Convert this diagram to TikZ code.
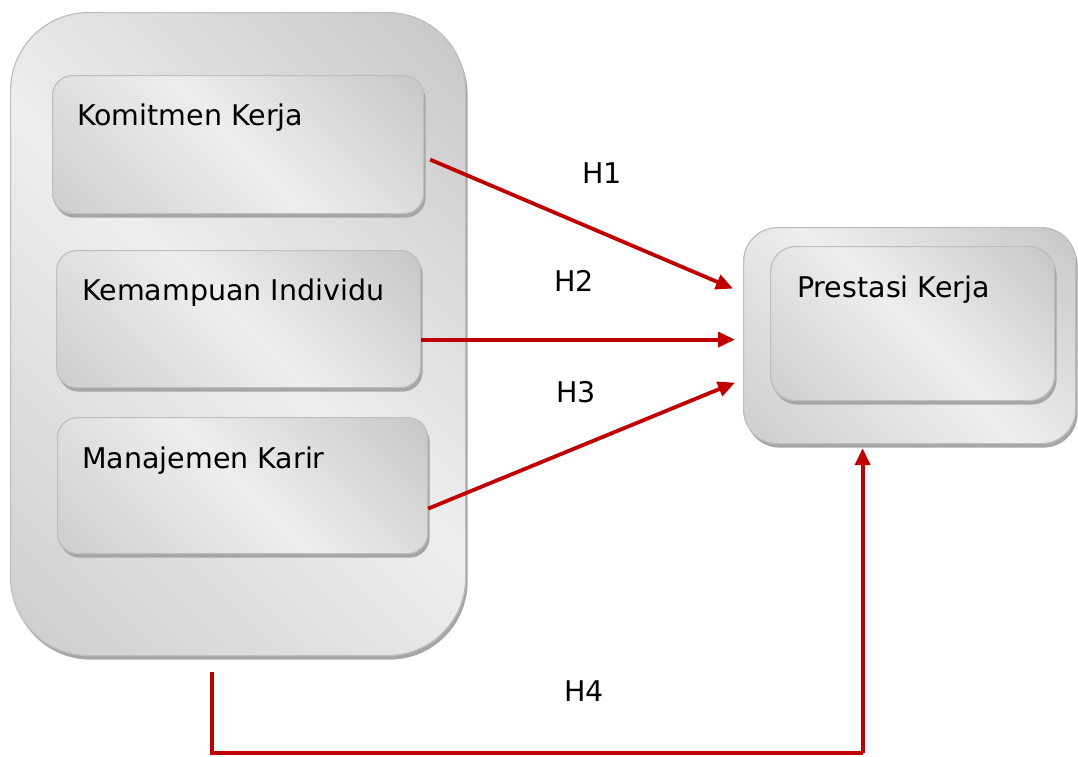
\documentclass[tikz,border=0pt]{standalone}
\usepackage{fontspec}
\setmainfont{DejaVu Sans}
\usetikzlibrary{arrows.meta,shadows,calc}
\definecolor{arrred}{HTML}{C00000}
\definecolor{gdark}{HTML}{C6C6C6}
\definecolor{glight}{HTML}{EEEEEE}
\definecolor{gmid}{HTML}{CDCDCD}
\definecolor{gborder}{HTML}{BEBEBE}
\definecolor{gshadow}{HTML}{A6A6A6}
\pgfdeclareverticalshading{boxshading}{100bp}{color(0bp)=(gmid); color(14bp)=(gmid); color(50bp)=(glight); color(86bp)=(gdark); color(100bp)=(gdark)}
\tikzset{
  gbox/.style={rectangle, draw=gborder, line width=1.2pt, inner sep=0pt,
    anchor=north west, shading=boxshading, shading angle=-45,
    drop shadow={shadow xshift=2pt, shadow yshift=-4pt, fill=gshadow, opacity=1}},
  lbl/.style={anchor=base west, inner sep=0pt, font=\fontsize{28.5}{34}\selectfont},
  arr/.style={draw=arrred, line width=3.8pt, -{Triangle[length=17pt,width=15pt]}},
  ln/.style={draw=arrred, line width=3.8pt}
}
\begin{document}
\begin{tikzpicture}[x=1pt,y=-1pt]
\useasboundingbox (0,0) rectangle (1078,756);
% outer boxes
\node[gbox, rounded corners=78pt, minimum width=455pt, minimum height=643pt] (ol) at (10,12) {};
\node[gbox, rounded corners=34pt, minimum width=332pt, minimum height=216pt] (po) at (743,227) {};
% inner boxes
\node[gbox, rounded corners=20pt, minimum width=371pt, minimum height=138pt] (kk) at (52,75) {};
\node[gbox, rounded corners=20pt, minimum width=364pt, minimum height=137pt] (ki) at (56,250) {};
\node[gbox, rounded corners=20pt, minimum width=370pt, minimum height=136pt] (mk) at (57,417) {};
\node[gbox, rounded corners=25pt, minimum width=284pt, minimum height=154pt] (pi) at (770,246) {};
% texts
\node[lbl] (tkk) at (77,125) {Komitmen Kerja};
\node[lbl] (tki) at (82,300) {Kemampuan Individu};
\node[lbl] (tmk) at (82,468) {Manajemen Karir};
\node[lbl] (tpi) at (797,297) {Prestasi Kerja};
\node[lbl] (h1) at (582,183) {H1};
\node[lbl] (h2) at (554,291) {H2};
\node[lbl] (h3) at (556,402) {H3};
\node[lbl] (h4) at (564,701) {H4};
% connectors
\coordinate (t1) at ($(po.west)+(-10,-47)$);
\coordinate (t2) at ($(po.west)+(-8,4)$);
\coordinate (t3) at ($(po.west)+(-8,47)$);
\draw[arr] ($(kk.east)+(6,15)$) -- (t1);
\draw[arr] (ki.east |- t2) -- (t2);
\draw[arr] ($(mk.east)+(0,23)$) -- (t3);
\coordinate (s4) at ($(ol.south)+(-26,16)$);
\coordinate (b4) at ($(po.south)+(-47,309)$);
\draw[ln] (s4) -- (s4 |- b4) -- (b4);
\draw[arr] (b4) -- ($(po.south)+(-47,4)$);
\end{tikzpicture}
\end{document}
